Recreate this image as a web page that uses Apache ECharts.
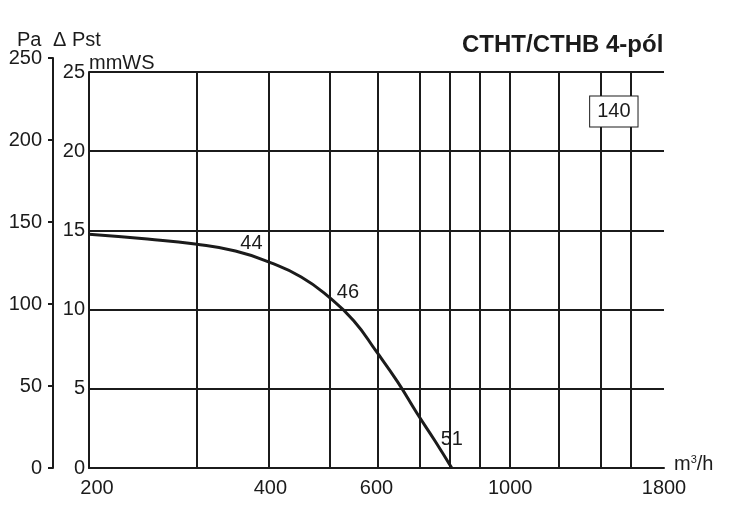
<!DOCTYPE html>
<html>
<head>
<meta charset="utf-8">
<script src="https://cdn.jsdelivr.net/npm/echarts@6/dist/echarts.min.js"></script>
<style>html,body{margin:0;padding:0;background:#fff}#c{width:732px;height:509px}</style>
</head>
<body>
<div id="c"></div>
<script>
// Airflow (m³/h) vs static pressure (mmWS)
const flow     = [200, 250, 300, 350, 400, 450, 500, 550, 600, 650, 700, 750, 800];
const pressure = [14.75, 14.45, 14.14, 13.7, 12.96, 12.06, 10.8, 9.3, 7.34, 5.45, 3.47, 1.72, 0];
const gridFlows = [200, 300, 400, 500, 600, 700, 800, 900, 1000, 1200, 1400, 1600, 1800];
const flowTickLabels = [200, 400, 600, 1000, 1800];
const pointLabels = [ // [flow, mmWS, text]
  [372, 14.2, '44'],
  [538, 11.05, '46'],
  [800, 1.77, '51']
];
const boxLabel = [1486, 22.5, '140'];

const L = Math.log10;
const ink = '#1b1b1b';
const font = '"Liberation Sans", Arial, sans-serif';
const FS = 20;

const labelStyle = {fontSize: FS, fontFamily: font, color: ink, textBorderWidth: 0, textBorderColor: 'transparent', opacity: 1};

const chart = echarts.init(document.getElementById('c'), null, {renderer: 'canvas'});
chart.setOption({
  animation: false,
  backgroundColor: '#fff',
  textStyle: {fontFamily: font, color: ink},
  title: [
    {text: 'CTHT/CTHB 4-pól', left: 457, top: 28, textStyle: {fontFamily: font, fontSize: 24, fontWeight: 'bold', color: ink}},
    {text: 'Pa', left: 12, top: 25, textStyle: {fontFamily: font, fontSize: FS, fontWeight: 'normal', color: ink}},
    {text: 'Δ Pst', left: 48, top: 25, textStyle: {fontFamily: font, fontSize: FS, fontWeight: 'normal', color: ink}},
    {text: 'mmWS', left: 84, top: 48, textStyle: {fontFamily: font, fontSize: FS, fontWeight: 'normal', color: ink}},
    {text: 'm{s|3}/h', left: 669, top: 449, textStyle: {fontFamily: font, fontSize: FS, fontWeight: 'normal', color: ink,
      rich: {s: {fontFamily: font, fontSize: 11, verticalAlign: 'top', padding: [0, 0, 8, 0], color: ink}}}}
  ],
  grid: [
    {left: 89, right: 68, top: 72, bottom: 41},
    {left: 53, width: 36, top: 58, bottom: 41}
  ],
  xAxis: [
    {
      type: 'value', gridIndex: 0, min: L(200), max: L(1800),
      axisLine: {show: true, lineStyle: {color: ink, width: 2}},
      axisTick: {show: false},
      splitLine: {show: false},
      axisLabel: {
        customValues: flowTickLabels.map(L),
        margin: 10, fontSize: FS, fontFamily: font, color: ink,
        formatter: v => {
          const n = Math.round(Math.pow(10, v));
          return n === 200 ? '{a|200}' : String(n);
        },
        rich: {a: {fontSize: FS, fontFamily: font, color: ink, padding: [0, 0, 0, 16]}}
      }
    },
    {type: 'value', gridIndex: 1, show: false, min: 0, max: 1}
  ],
  yAxis: [
    {
      type: 'value', gridIndex: 0, min: 0, max: 25, interval: 5,
      axisLine: {show: true, lineStyle: {color: ink, width: 2}},
      axisTick: {show: false},
      splitLine: {show: true, lineStyle: {color: ink, width: 2}},
      axisLabel: {margin: 4, fontSize: FS, fontFamily: font, color: ink}
    },
    {
      type: 'value', gridIndex: 1, min: 0, max: 250, interval: 50, position: 'left',
      axisLine: {show: true, lineStyle: {color: ink, width: 2}},
      axisTick: {show: true, length: 5, lineStyle: {color: ink, width: 2}},
      splitLine: {show: false},
      axisLabel: {margin: 11, fontSize: FS, fontFamily: font, color: ink}
    }
  ],
  series: [
    {
      type: 'line', xAxisIndex: 0, yAxisIndex: 0,
      data: [],
      silent: true,
      markLine: {
        silent: true, symbol: 'none', animation: false,
        label: {show: false},
        lineStyle: {color: ink, width: 2, type: 'solid'},
        emphasis: {disabled: true},
        data: gridFlows.map(v => ({xAxis: L(v)}))
      }
    },
    {
      type: 'line', xAxisIndex: 0, yAxisIndex: 0,
      smooth: 0.5, symbol: 'none',
      lineStyle: {color: ink, width: 3},
      data: flow.map((f, i) => [L(f), pressure[i]]),
      z: 5
    },
    {
      type: 'scatter', xAxisIndex: 0, yAxisIndex: 0,
      symbolSize: 0, silent: true,
      itemStyle: {opacity: 1},
      data: pointLabels.map(p => [L(p[0]), p[1], p[2]]),
      label: Object.assign({show: true, position: 'inside', formatter: p => p.data[2]}, labelStyle),
      z: 6
    },
    {
      type: 'scatter', xAxisIndex: 0, yAxisIndex: 0,
      symbolSize: 0, silent: true,
      itemStyle: {opacity: 1},
      data: [[L(boxLabel[0]), boxLabel[1], boxLabel[2]]],
      label: Object.assign({show: true, position: 'inside', formatter: p => p.data[2],
        backgroundColor: '#fff', borderColor: ink, borderWidth: 1, padding: [6, 7, 4, 7]}, labelStyle),
      z: 6
    }
  ]
});
</script>
</body>
</html>
